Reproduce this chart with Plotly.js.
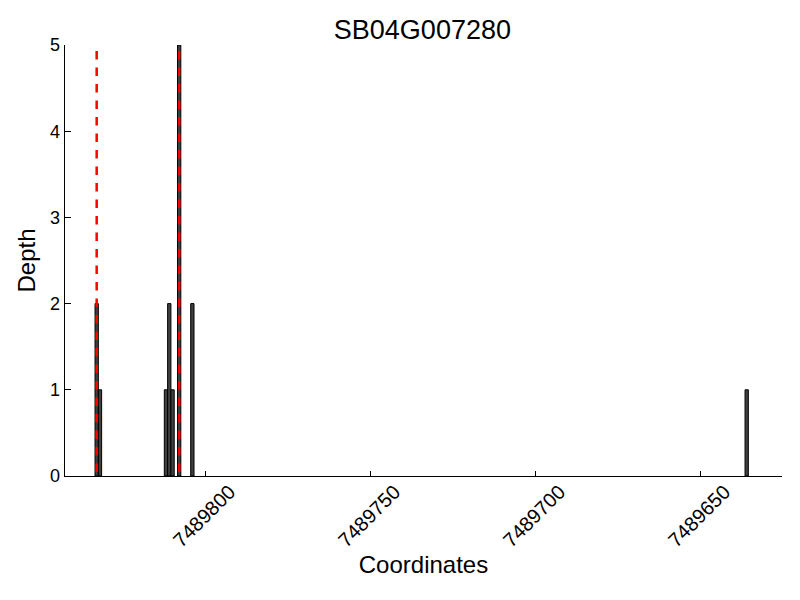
<!DOCTYPE html>
<html>
<head>
<meta charset="utf-8">
<script src="https://cdn.plot.ly/plotly-3.0.1.min.js"></script>
<style>html,body{margin:0;padding:0;background:#fff;}#chart{width:800px;height:600px;}</style>
</head>
<body>
<div id="chart"></div>
<script>
// Data
const chartTitle = "SB04G007280";
const positions = [7489833, 7489832, 7489812, 7489811, 7489810, 7489808, 7489804, 7489636];
const depths    = [2, 1, 1, 2, 1, 5, 2, 1];
const boundaryMarks = [7489833, 7489808];
const xTickVals = [7489800, 7489750, 7489700, 7489650];
const xTickText = ["7489800", "7489750", "7489700", "7489650"];
const yTickVals = [0, 1, 2, 3, 4, 5];

const FONT = "Liberation Sans, Arial, Helvetica, sans-serif";

const bars = {
  type: "bar",
  x: positions,
  y: depths,
  width: 1,
  marker: {color: "#404040", line: {color: "#000000", width: 1}},
  hoverinfo: "x+y"
};

const shapes = boundaryMarks.map(v => ({
  type: "line", xref: "x", yref: "y",
  x0: v, x1: v, y0: 4.93, y1: 0,
  line: {color: "#ff0000", width: 2.5, dash: "8.5px,8px"},
  layer: "above"
}));

const layout = {
  width: 800, height: 600,
  margin: {l: 65, r: 18, t: 45, b: 124},
  paper_bgcolor: "#ffffff",
  plot_bgcolor: "#ffffff",
  showlegend: false,
  bargap: 0,
  font: {family: FONT, color: "#000000", size: 18},
  title: {text: chartTitle, font: {family: FONT, size: 27, color: "#000"},
          x: 0.528, xref: "container", y: 0.95, yref: "container", yanchor: "middle"},
  xaxis: {
    range: [7489842.6, 7489625.3],
    tickvals: xTickVals, ticktext: xTickText,
    tickangle: -45,
    ticklabelshift: -24,
    ticklabelstandoff: -5,
    ticks: "inside", ticklen: 5, tickcolor: "#000", tickwidth: 1,
    showline: true, linecolor: "#000", linewidth: 1.3,
    showgrid: false, zeroline: false,
    tickfont: {family: FONT, size: 20, color: "#000"},
    title: {text: "Coordinates", font: {family: FONT, size: 24, color: "#000"}, standoff: 6},
    automargin: false
  },
  yaxis: {
    range: [0, 5],
    tickvals: yTickVals,
    ticks: "inside", ticklen: 6, tickcolor: "#000", tickwidth: 1,
    showline: true, linecolor: "#000", linewidth: 1.3,
    showgrid: false, zeroline: false,
    tickfont: {family: FONT, size: 18, color: "#000"},
    title: {text: "Depth", font: {family: FONT, size: 24, color: "#000"}, standoff: 7},
    automargin: false
  },
  shapes: shapes
};

Plotly.newPlot("chart", [bars], layout, {displayModeBar: false, staticPlot: true});
</script>
</body>
</html>
